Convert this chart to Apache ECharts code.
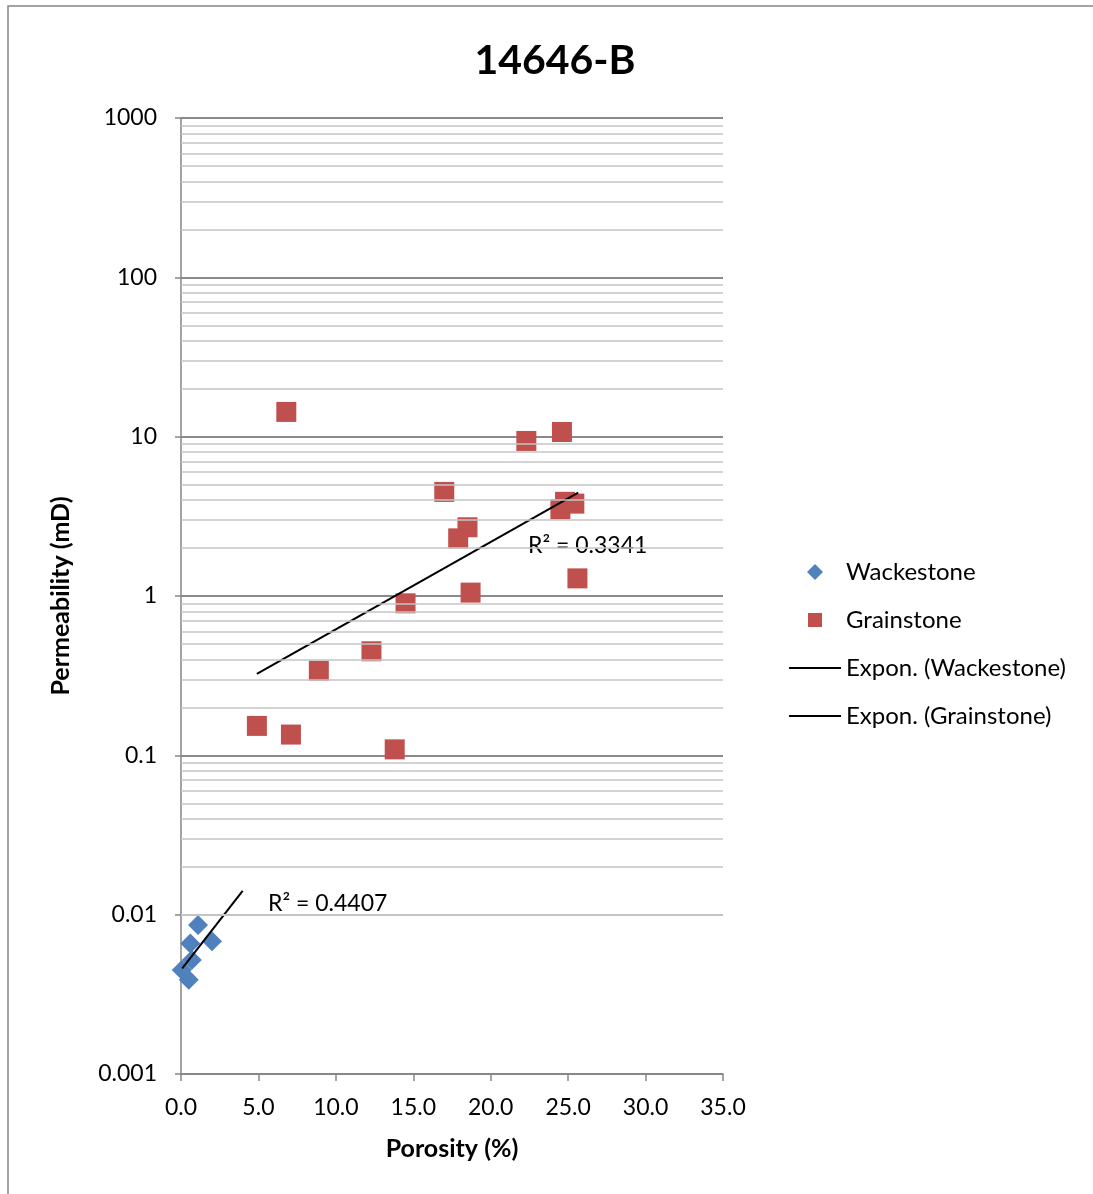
<!DOCTYPE html>
<html>
<head>
<meta charset="utf-8">
<script src="https://cdn.jsdelivr.net/npm/echarts@6/dist/echarts.min.js"></script>
<style>
  html, body { margin: 0; padding: 0; background: #fff; }
  #chart { width: 1093px; height: 1194px; }
</style>
</head>
<body>
<div id="chart"></div>
<script>
// values
const wackePorosity = [1.1, 0.6, 2.0, 0.7, 0.05, 0.5];
const wackePerm = [0.0086, 0.0066, 0.0068, 0.0052, 0.0045, 0.0039];

const grainPorosity = [6.8, 22.3, 24.6, 17.0, 24.8, 25.4, 24.5, 18.5, 17.9, 25.6, 18.7, 14.5, 12.3, 8.9, 4.9, 7.1, 13.8];
const grainPerm = [14.3, 9.4, 10.7, 4.5, 3.9, 3.8, 3.5, 2.7, 2.3, 1.29, 1.05, 0.9, 0.45, 0.34, 0.153, 0.135, 0.109];

// trendline ends (exponential fit -> straight on log axis)
const wakeTrendX = [0.08, 3.98];
const wakeTrendY = [0.0046, 0.0141];
const grainTrendX = [4.9, 25.65];
const grainTrendY = [0.325, 4.45];

const yTicks = [0.001, 0.01, 0.1, 1, 10, 100, 1000];

const font = "Lato";
const zip = (a, b) => a.map((v, i) => [v, b[i]]);

// minor log gridlines at 2..9 of each decade
const minorLines = [];
for (let i = 0; i < yTicks.length - 1; i++) {
  for (let m = 2; m <= 9; m++) {
    minorLines.push({ yAxis: parseFloat((yTicks[i] * m).toPrecision(6)) });
  }
}

// legend icons padded to the 52x16 box so they don't get stretched
const iconDiamond = "path://M0,8M52,8M26,0L34,8L26,16L18,8Z";
const iconSquare = "path://M0,8M52,8M19,1H33V15H19Z";
const iconLine = "path://M0,0M0,7H52V9H0ZM52,16";

const chart = echarts.init(document.getElementById("chart"));

chart.setOption({
  animation: false,
  textStyle: { fontFamily: font },
  title: {
    text: "14646-B",
    left: 550,
    top: 35,
    textAlign: "center",
    textStyle: { fontFamily: font, fontWeight: "bold", fontSize: 41, color: "#000" }
  },
  grid: { left: 181, right: 370, top: 118, bottom: 120 },
  legend: {
    orient: "vertical",
    left: 784,
    top: 555,
    itemWidth: 52,
    itemHeight: 16,
    itemGap: 24,
    textStyle: { fontFamily: font, fontSize: 24, color: "#000", lineHeight: 24 },
    data: [
      { name: "Wackestone", icon: iconDiamond },
      { name: "Grainstone", icon: iconSquare },
      { name: "Expon. (Wackestone)", icon: iconLine },
      { name: "Expon. (Grainstone)", icon: iconLine }
    ]
  },
  xAxis: {
    type: "value",
    min: 0,
    max: 35,
    interval: 5,
    name: "Porosity (%)",
    nameLocation: "middle",
    nameGap: 62,
    nameTextStyle: { fontFamily: font, fontWeight: "bold", fontSize: 25, color: "#000" },
    axisLine: { onZero: false, lineStyle: { color: "#868686", width: 1.5 } },
    axisTick: { show: true, length: 7, lineStyle: { color: "#868686", width: 1.5 } },
    axisLabel: {
      margin: 22,
      fontSize: 23,
      color: "#000",
      formatter: v => v.toFixed(1)
    },
    splitLine: { show: false }
  },
  yAxis: {
    type: "log",
    logBase: 10,
    min: 0.001,
    max: 1000,
    name: "Permeability (mD)",
    nameLocation: "middle",
    nameGap: 108,
    nameTextStyle: { fontFamily: font, fontWeight: "bold", fontSize: 25, color: "#000" },
    axisLine: { show: true, lineStyle: { color: "#868686", width: 1.5 } },
    axisTick: { show: true, length: 6, lineStyle: { color: "#868686", width: 1.5 } },
    axisLabel: {
      margin: 24,
      fontSize: 23,
      color: "#000",
      formatter: v => String(parseFloat(v.toPrecision(6)))
    },
    splitLine: { show: true, lineStyle: { color: "#8a8a8a", width: 2 } },
    minorTick: { show: false },
    minorSplitLine: { show: false }
  },
  series: [
    {
      name: "grid-minor",
      type: "line",
      data: [],
      z: 1,
      silent: true,
      markLine: {
        silent: true,
        symbol: "none",
        animation: false,
        label: { show: false },
        lineStyle: { color: "#c4c4c4", width: 1.5, type: "solid" },
        data: minorLines
      }
    },
    {
      name: "Wackestone",
      type: "scatter",
      symbol: "diamond",
      symbolSize: 20,
      itemStyle: { color: "#4F81BD", opacity: 1 },
      data: zip(wackePorosity, wackePerm),
      z: 3
    },
    {
      name: "Grainstone",
      type: "scatter",
      symbol: "rect",
      symbolSize: 20,
      itemStyle: { color: "#C0504D", opacity: 1 },
      data: zip(grainPorosity, grainPerm),
      z: 3
    },
    {
      name: "Expon. (Wackestone)",
      type: "line",
      showSymbol: false,
      symbol: "none",
      itemStyle: { color: "#000" },
      lineStyle: { color: "#000", width: 2 },
      data: zip(wakeTrendX, wakeTrendY),
      z: 4
    },
    {
      name: "Expon. (Grainstone)",
      type: "line",
      showSymbol: false,
      symbol: "none",
      itemStyle: { color: "#000" },
      lineStyle: { color: "#000", width: 2 },
      data: zip(grainTrendX, grainTrendY),
      z: 4
    }
  ],
  graphic: [
    {
      type: "rect",
      shape: { x: 8, y: 6, width: 1100, height: 1200 },
      style: { fill: "none", stroke: "#868686", lineWidth: 1.5 },
      silent: true
    },
    {
      type: "text",
      left: 528,
      top: 534,
      style: { text: "R² = 0.3341", font: "23px " + font, fill: "#000" }
    },
    {
      type: "text",
      left: 268,
      top: 892,
      style: { text: "R² = 0.4407", font: "23px " + font, fill: "#000" }
    }
  ]
});
</script>
</body>
</html>
